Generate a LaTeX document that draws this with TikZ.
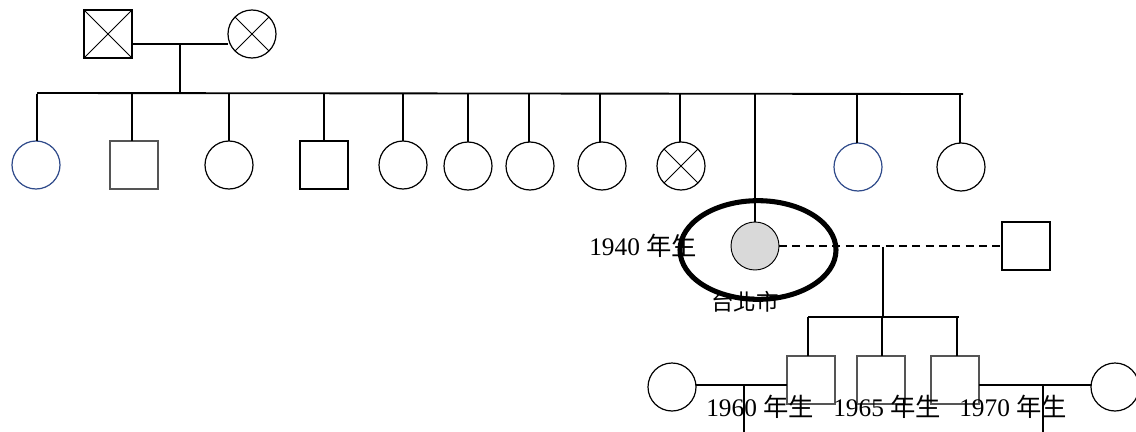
\documentclass[tikz,border=0pt]{standalone}
\usepackage{fontspec}
\usetikzlibrary{shapes.geometric}
\setmainfont{Liberation Serif}
\newfontfamily\cjk{Noto Sans CJK TC}
\definecolor{pedblue}{HTML}{2F4A8A}
\definecolor{probgray}{HTML}{D9D9D9}
\definecolor{boxgray}{HTML}{555555}
\begin{document}
\begin{tikzpicture}[x=0.75pt,y=-0.75pt,
  person/.style={draw=black,line width=0.9pt,minimum size=36pt,inner sep=0pt,outer sep=0pt},
  male/.style={person,rectangle},
  female/.style={person,circle},
  deceased/.style={path picture={\draw[line width=0.7pt]
      (path picture bounding box.north west)--(path picture bounding box.south east)
      (path picture bounding box.north east)--(path picture bounding box.south west);}},
  link/.style={line width=1.4pt,black},
  thin link/.style={line width=1.1pt,black},
  label/.style={inner sep=0pt,font=\fontsize{19}{21}\selectfont},
  circle deceased/.style={path picture={\draw[line width=0.7pt]
      ([shift={(-12.7pt,-12.7pt)}]path picture bounding box.center)--([shift={(12.7pt,12.7pt)}]path picture bounding box.center)
      ([shift={(-12.7pt,12.7pt)}]path picture bounding box.center)--([shift={(12.7pt,-12.7pt)}]path picture bounding box.center);}}
]
\useasboundingbox (0,0) rectangle (1136,432);
\fill[white] (0,0) rectangle (1136,432);

% grandparents
\node[male,deceased] (gf) at (108,34) {};
\node[female,circle deceased] (gm) at (252,34) {};
\coordinate (gmar) at (180,44);
\draw[link] (gf.east |- gmar) -- (gm.west |- gmar);
\coordinate (sibL) at (37,93);
\coordinate (sibR) at (963,94);
\draw[link] (gmar) -- (180,93);
\draw[link] (sibL) -- (sibR);

% children row
\node[female,draw=pedblue] (c1) at (36,165) {};
\node[male,draw=boxgray] (c2) at (134,165) {};
\node[female] (c3) at (229,165) {};
\node[male] (c4) at (324,165) {};
\node[female] (c5) at (403,165) {};
\node[female] (c6) at (468,166) {};
\node[female] (c7) at (530,166) {};
\node[female] (c8) at (602,166) {};
\node[female,circle deceased] (c9) at (681,166) {};
\node[female,draw=pedblue] (c10) at (858,167) {};
\node[female] (c11) at (961,167) {};

\foreach \c/\x in {c1/37,c2/132,c3/229,c4/324,c5/403,c6/468,c7/529,c8/600,c9/680,c10/857,c11/960}{
  \draw[link] (\x,93.5) -- (\x,0 |- \c.north);
}

% proband
\node[female,fill=probgray,line width=0.7pt] (prob) at (755,246) {};
\draw[link,line width=1.1pt] (755,94) -- (prob.north);
\node[male] (sp) at (1026,246) {};
\draw[line width=1.3pt,dash pattern=on 6pt off 4pt] (prob.east) -- (sp.west);

\node[label,anchor=base west] (t1940) at (589,255) {1940 {\cjk 年生}};
\node[label,anchor=base,font=\fontsize{17}{19}\selectfont\cjk] (ttp) at (745,310) {台北市};
\node[draw=black,line width=3.8pt,ellipse,minimum width=117pt,minimum height=74pt,inner sep=0pt] (oval) at (758,250) {};

% third generation
\coordinate (cmar) at (883,247);
\coordinate (sib2) at (883,317);
\draw[thin link] (cmar) -- (sib2);
\node[male,draw=boxgray] (s1) at (811,380) {};
\node[male,draw=boxgray] (s2) at (881,380) {};
\node[male,draw=boxgray] (s3) at (955,380) {};
\draw[thin link] (808,317) -- (959,317);
\draw[thin link] (808,316.5) -- (808,0 |- s1.north);
\draw[thin link] (882,317) -- (882,0 |- s2.north);
\draw[thin link] (957,316.5) -- (957,0 |- s3.north);

\node[female] (w1) at (672,387) {};
\node[female] (w3) at (1115,387) {};
\draw[thin link] (w1.east |- 0,385) -- (s1.west |- 0,385);
\draw[thin link] (s3.east |- 0,385) -- (w3.west |- 0,385);
\coordinate (d1) at (744,432);
\coordinate (d3) at (1043,432);
\draw[thin link] (744,385) -- (d1);
\draw[thin link] (1043,385) -- (d3);

\node[label,anchor=base west] (t1960) at (706,416) {1960 {\cjk 年生}};
\node[label,anchor=base west] (t1965) at (833,416) {1965 {\cjk 年生}};
\node[label,anchor=base west] (t1970) at (959,416) {1970 {\cjk 年生}};
\end{tikzpicture}
\end{document}
